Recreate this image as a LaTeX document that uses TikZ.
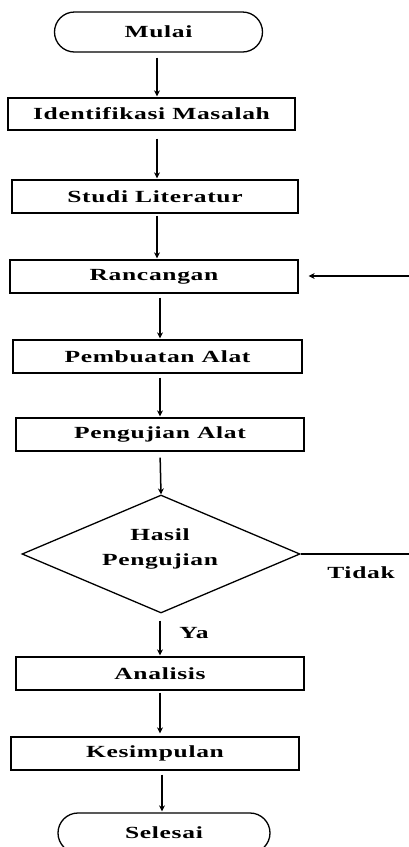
\documentclass[tikz,border=0pt]{standalone}
\usepackage{fontspec}
\setmainfont{Liberation Serif}[FakeStretch=1.5,LetterSpace=4]
\usetikzlibrary{arrows.meta,shapes.geometric}
\begin{document}
\begin{tikzpicture}[x=1pt,y=-1pt,
  every node/.style={font=\fontsize{17}{25}\selectfont\bfseries},
  box/.style={draw, line width=1.3pt, inner sep=0pt, minimum height=33pt},
  term/.style={draw, line width=1.3pt, inner sep=0pt, minimum height=40pt, rounded corners=20pt},
  arr/.style={line width=1.5pt, -{Stealth[length=6pt,width=6pt]}, shorten <=5pt, shorten >=1pt},
  plain/.style={line width=1.3pt}]
\useasboundingbox (0,0) rectangle (409,847);
\clip (0,0) rectangle (409,847);
\fill[white] (0,0) rectangle (409,847);
% nodes
\node[term, minimum width=208pt] (mulai) at (158.5,32) {Mulai};
\node[box, minimum width=287pt, minimum height=32pt] (ident) at (151.5,114) {Identifikasi Masalah};
\node[box, minimum width=286pt] (studi) at (155,196.5) {Studi Literatur};
\node[box, minimum width=288pt] (ranc) at (154,276.5) {Rancangan};
\node[box, minimum width=289pt] (pemb) at (157.5,356.5) {Pembuatan Alat};
\node[box, minimum width=288pt] (peng) at (160,434.5) {Pengujian Alat};
\node[diamond, draw, line width=1.3pt, inner sep=0pt, minimum width=278pt, minimum height=118pt] (hasil) at (161,554) {};
\node[align=center] (hasiltxt) at (160,549) {Hasil\\Pengujian};
\node[box, minimum width=288pt] (anal) at (160,673.5) {Analisis};
\node[box, minimum width=288pt] (kesim) at (155,753.5) {Kesimpulan};
\node[term, minimum width=212pt] (seles) at (164,833) {Selesai};
\node (tidak) at (361,573) {Tidak};
\node (ya) at (194,633) {Ya};
% column coordinates
\coordinate (c1) at (157,0);
\coordinate (c2) at (160,0);
\coordinate (c3) at (162,0);
\coordinate (fb) at (409,276);
\coordinate (tend) at (409,554);
% connectors
\draw[arr] (mulai.south -| c1) -- (ident.north -| c1);
\draw[arr, shorten <=8pt] (ident.south -| c1) -- (studi.north -| c1);
\draw[arr, shorten <=2pt] (studi.south -| c1) -- (ranc.north -| c1);
\draw[arr, shorten <=4pt] (ranc.south -| c2) -- (pemb.north -| c2);
\draw[arr, shorten <=4pt] (pemb.south -| c2) -- (peng.north -| c2);
\draw[arr, shorten <=6pt, shorten >=0pt] (peng.south -| c2) -- (hasil.north);
\draw[arr, shorten <=7pt] (hasil.south -| c2) -- (anal.north -| c2);
\draw[arr, shorten <=2pt, shorten >=3pt] (anal.south -| c2) -- (kesim.north -| c2);
\draw[arr, shorten <=4pt] (kesim.south -| c3) -- (seles.north -| c3);
\draw[arr, shorten <=0pt, shorten >=10pt] (fb) -- (ranc.east |- fb);
\draw[plain] (hasil.east) -- (tend);
\end{tikzpicture}
\end{document}
